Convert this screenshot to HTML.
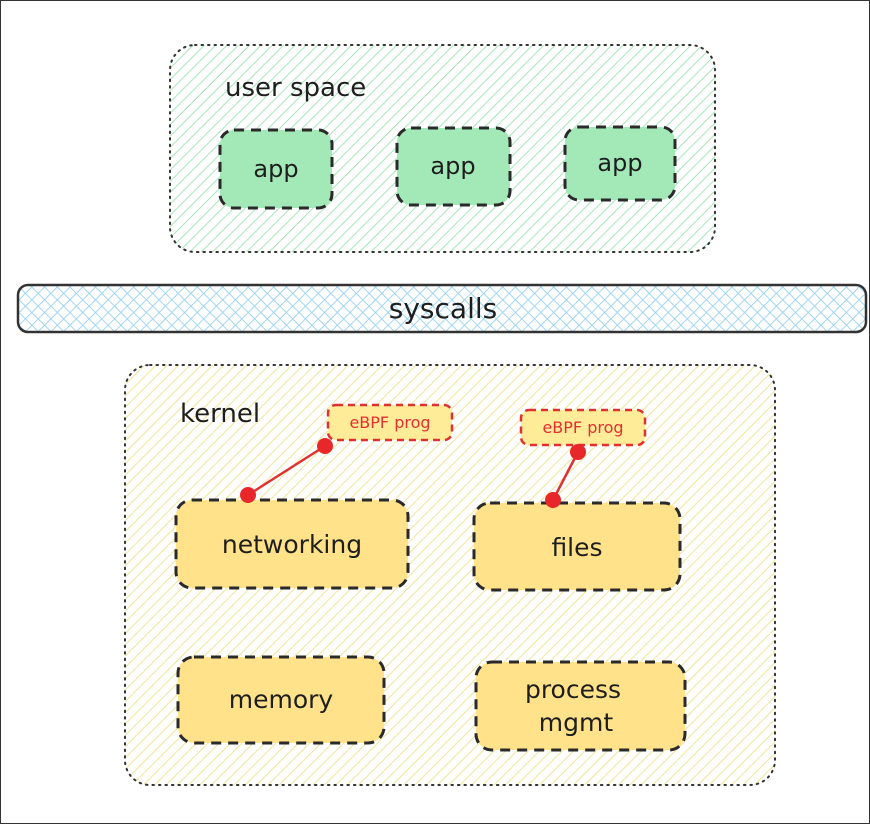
<!DOCTYPE html>
<html><head><style>html,body{margin:0;padding:0;background:#fff}svg{display:block}</style></head><body>
<svg width="870" height="824" viewBox="0 0 870 824" xmlns="http://www.w3.org/2000/svg" font-family="'Comic Sans MS','DejaVu Sans',sans-serif">
<defs>
<pattern id="g" width="8" height="8" patternUnits="userSpaceOnUse" patternTransform="rotate(45)"><line x1="0" y1="0" x2="0" y2="8" stroke="#a8e6b8" stroke-width="2"/></pattern>
<pattern id="y" width="8" height="8" patternUnits="userSpaceOnUse" patternTransform="rotate(45)"><line x1="0" y1="0" x2="0" y2="8" stroke="#f0e49a" stroke-width="2"/></pattern>
<pattern id="b" width="9" height="9" patternUnits="userSpaceOnUse" patternTransform="rotate(45)"><line x1="0" y1="0" x2="0" y2="9" stroke="#98d2f2" stroke-width="1.8"/><line x1="0" y1="0" x2="9" y2="0" stroke="#98d2f2" stroke-width="1.8"/></pattern>
</defs>
<rect x="0.5" y="0.5" width="869" height="823" fill="#fff" stroke="#333" stroke-width="1"/>
<rect x="170" y="45" width="545" height="207" rx="25" fill="url(#g)" stroke="#333" stroke-width="2" stroke-dasharray="1.5 5" stroke-linecap="round"/>
<text x="225" y="96" font-size="26" fill="#1e1e1e">user space</text>
<g fill="#a3e9b8" stroke="#2a2a2a" stroke-width="3" stroke-dasharray="10 7">
<rect x="220" y="130" width="112" height="78" rx="14"/>
<rect x="397" y="128" width="113" height="77" rx="14"/>
<rect x="565" y="127" width="110" height="73" rx="14"/>
</g>
<g font-size="24" fill="#1e1e1e" text-anchor="middle">
<text x="276" y="177">app</text><text x="453" y="174">app</text><text x="620" y="171">app</text>
</g>
<rect x="18" y="285" width="848" height="47" rx="10" fill="url(#b)" stroke="#333" stroke-width="2.5"/>
<text x="443" y="318" font-size="28" fill="#1e1e1e" text-anchor="middle">syscalls</text>
<rect x="125" y="365" width="650" height="420" rx="25" fill="url(#y)" stroke="#333" stroke-width="2" stroke-dasharray="1.5 5" stroke-linecap="round"/>
<text x="180" y="422" font-size="26" fill="#1e1e1e">kernel</text>
<g fill="#ffec99" stroke="#e03131" stroke-width="2.5" stroke-dasharray="7 5">
<rect x="328" y="405" width="124" height="35" rx="8"/>
<rect x="521" y="410" width="124" height="35" rx="8"/>
</g>
<g font-size="16" fill="#e03131" text-anchor="middle"><text x="390" y="428">eBPF prog</text><text x="583" y="433">eBPF prog</text></g>
<g fill="#ffe28a" stroke="#2a2a2a" stroke-width="3" stroke-dasharray="10 7">
<rect x="176" y="500" width="232" height="88" rx="16"/>
<rect x="474" y="503" width="206" height="87" rx="16"/>
<rect x="178" y="657" width="206" height="86" rx="16"/>
<rect x="476" y="662" width="209" height="88" rx="16"/>
</g>
<g font-size="25" fill="#1e1e1e" text-anchor="middle">
<text x="292" y="553">networking</text><text x="577" y="556">files</text><text x="281" y="708">memory</text>
<text x="573" y="698">process</text><text x="576" y="731">mgmt</text>
</g>
<g stroke="#e03131" stroke-width="2.5"><line x1="248" y1="495" x2="325" y2="446"/><line x1="553" y1="500" x2="578" y2="452"/></g>
<g fill="#e8272a"><circle cx="248" cy="495" r="8"/><circle cx="325" cy="446" r="8"/><circle cx="553" cy="500" r="8"/><circle cx="578" cy="452" r="8"/></g>
</svg>
</body></html>
